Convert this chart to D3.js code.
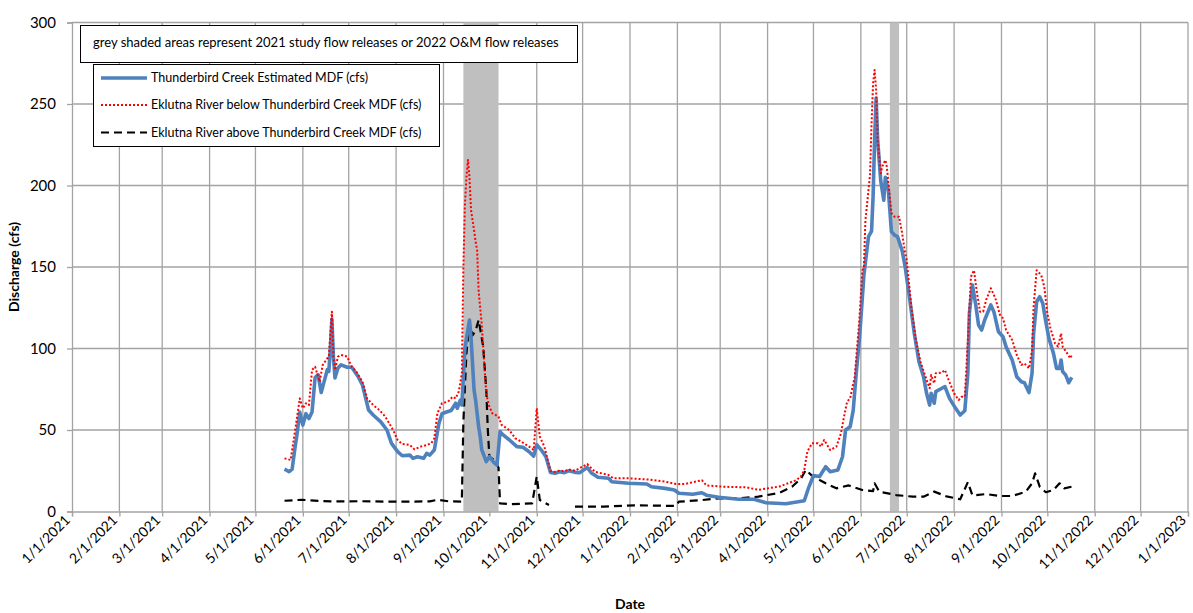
<!DOCTYPE html>
<html>
<head>
<meta charset="utf-8">
<script src="https://cdn.jsdelivr.net/npm/d3@7"></script>
<style>
  html, body { margin: 0; padding: 0; background: #fff; }
  svg { display: block; font-family: Lato, "Open Sans", sans-serif; }
</style>
</head>
<body>
<svg id="chart" width="1193" height="613"></svg>
<script>
// Thunderbird Creek estimated mean daily flow (cfs)
const thunderbird = [
  ["2021-05-20",26],["2021-05-22",25],["2021-05-23",24.4],["2021-05-25",26],["2021-05-27",40],
  ["2021-05-28",46],["2021-05-30",61],["2021-05-31",57],["2021-06-01",53],["2021-06-03",60],
  ["2021-06-05",57],["2021-06-07",61],["2021-06-09",82],["2021-06-11",84],["2021-06-13",73],
  ["2021-06-15",80],["2021-06-17",87],["2021-06-18",86],["2021-06-19",100],["2021-06-20",118],
  ["2021-06-21",95],["2021-06-22",82],["2021-06-24",88],["2021-06-26",90],["2021-06-30",88.5],
  ["2021-07-03",88.5],["2021-07-07",83],["2021-07-10",77.6],["2021-07-14",62.3],["2021-07-17",59.2],
  ["2021-07-22",55],["2021-07-26",50],["2021-07-29",41.8],["2021-08-02",36.7],["2021-08-05",34.2],
  ["2021-08-10",34.6],["2021-08-12",32.6],["2021-08-15",33.6],["2021-08-19",32.6],["2021-08-21",35.7],
  ["2021-08-23",34.6],["2021-08-26",37.7],["2021-08-29",54],["2021-08-31",60],["2021-09-03",61],
  ["2021-09-06",62],["2021-09-09",66.4],["2021-09-10",63.3],["2021-09-12",68.4],["2021-09-13",65.3],
  ["2021-09-15",100],["2021-09-16",106],["2021-09-18",117.5],["2021-09-19",107],["2021-09-21",74.5],
  ["2021-09-22",68.4],["2021-09-24",52],["2021-09-25",46],["2021-09-26",38],["2021-09-29",30.6],
  ["2021-10-01",33.6],["2021-10-04",30],["2021-10-06",28.5],["2021-10-08",49],["2021-10-10",47],
  ["2021-10-14",44],["2021-10-19",39.8],["2021-10-23",39.4],["2021-10-27",36.7],["2021-10-30",34],
  ["2021-11-01",41],["2021-11-04",37.7],["2021-11-07",33.6],["2021-11-10",24],["2021-11-13",23.5],
  ["2021-11-16",24.4],["2021-11-19",23.8],["2021-11-22",25],["2021-11-26",24],["2021-11-29",23.8],
  ["2021-12-04",27],["2021-12-07",23.4],["2021-12-11",21],["2021-12-18",20.4],["2021-12-20",18.3],
  ["2021-12-31",17.3],["2022-01-12",16.9],["2022-01-15",15.2],["2022-01-24",14.2],["2022-01-30",13.2],
  ["2022-02-02",11.2],["2022-02-11",10.6],["2022-02-17",11.5],["2022-02-20",10],["2022-02-28",8.7],
  ["2022-03-13",7.5],["2022-03-23",7.5],["2022-03-31",5.4],["2022-04-13",4.8],["2022-04-25",6.6],
  ["2022-04-28",15],["2022-05-01",22],["2022-05-05",21.5],["2022-05-09",27.5],["2022-05-12",24.4],
  ["2022-05-17",25.5],["2022-05-20",33.6],["2022-05-22",50],["2022-05-25",52],["2022-05-27",62],
  ["2022-05-29",85],["2022-05-31",105],["2022-06-01",118],["2022-06-03",145],["2022-06-06",168.6],
  ["2022-06-08",172],["2022-06-09",193],["2022-06-10",228],["2022-06-11",253.5],["2022-06-12",228],
  ["2022-06-14",203],["2022-06-16",191],["2022-06-17",205],["2022-06-19",197],["2022-06-21",171.7],
  ["2022-06-23",169.6],["2022-06-25",168.6],["2022-06-28",160],["2022-06-30",150],["2022-07-03",130],
  ["2022-07-06",109],["2022-07-09",92],["2022-07-12",82.7],["2022-07-14",72.5],["2022-07-16",65.3],
  ["2022-07-17",72.5],["2022-07-19",66.4],["2022-07-20",73.5],["2022-07-24",75.6],["2022-07-26",76.6],
  ["2022-07-29",69.4],["2022-08-02",63.3],["2022-08-05",59.2],["2022-08-08",61.8],["2022-08-10",84.8],
  ["2022-08-11",121.6],["2022-08-13",139],["2022-08-15",127.7],["2022-08-17",114.4],["2022-08-19",111.3],
  ["2022-08-21",117.5],["2022-08-25",126.7],["2022-08-27",122.6],["2022-08-30",110.3],["2022-09-02",107.2],
  ["2022-09-04",101],["2022-09-08",93],["2022-09-11",82.7],["2022-09-14",79.6],["2022-09-16",79],
  ["2022-09-19",73],["2022-09-21",85],["2022-09-22",109],["2022-09-24",128.7],["2022-09-26",131.8],
  ["2022-09-28",127.7],["2022-09-30",116.5],["2022-10-02",106.3],["2022-10-05",97],["2022-10-07",87.8],
  ["2022-10-09",87.8],["2022-10-10",92.9],["2022-10-11",85.8],["2022-10-13",83.7],["2022-10-15",79],
  ["2022-10-17",82.3]
];

// Eklutna River below Thunderbird Creek mean daily flow (cfs)
const eklutnaBelow = [
  ["2021-05-20",32.6],["2021-05-24",31.6],["2021-05-27",50],["2021-05-30",69.4],["2021-06-01",63.3],
  ["2021-06-03",66.4],["2021-06-05",65.3],["2021-06-07",86.8],["2021-06-09",88.8],["2021-06-12",79.6],
  ["2021-06-14",89.9],["2021-06-17",94],["2021-06-18",95],["2021-06-20",122.6],["2021-06-21",95],
  ["2021-06-22",86.8],["2021-06-24",95],["2021-06-26",96],["2021-06-30",95],["2021-07-03",88.8],
  ["2021-07-06",85.8],["2021-07-10",79.6],["2021-07-13",69.4],["2021-07-17",65.3],["2021-07-21",62.3],
  ["2021-07-25",58.2],["2021-07-30",50],["2021-08-02",43.9],["2021-08-05",41.4],["2021-08-10",40.8],
  ["2021-08-13",38.1],["2021-08-17",39.8],["2021-08-21",40.8],["2021-08-24",41.8],["2021-08-26",44.9],
  ["2021-08-28",60.2],["2021-08-31",66.4],["2021-09-04",67.4],["2021-09-07",70.4],["2021-09-09",69.4],
  ["2021-09-11",73.5],["2021-09-13",84.8],["2021-09-14",150],["2021-09-15",188],["2021-09-16",205],
  ["2021-09-17",215.7],["2021-09-18",205],["2021-09-19",185],["2021-09-21",172.5],["2021-09-22",165.5],
  ["2021-09-23",160.4],["2021-09-24",135],["2021-09-25",125],["2021-09-26",115],["2021-09-28",86],
  ["2021-09-29",72],["2021-10-01",64.3],["2021-10-03",60.2],["2021-10-07",58.2],["2021-10-09",53.1],
  ["2021-10-14",50],["2021-10-18",44.9],["2021-10-22",42.8],["2021-10-27",39.8],["2021-10-30",37.7],
  ["2021-11-01",63.3],["2021-11-03",45.9],["2021-11-06",39.8],["2021-11-09",28.5],["2021-11-10",24.8],
  ["2021-11-13",24.3],["2021-11-16",25.2],["2021-11-19",24.6],["2021-11-22",25.8],["2021-11-26",25],
  ["2021-11-29",26.5],["2021-12-04",29.1],["2021-12-09",24.4],["2021-12-18",22.4],["2021-12-21",20.4],
  ["2021-12-30",20.4],["2022-01-12",19.7],["2022-01-24",18.3],["2022-01-31",16.9],["2022-02-06",16.9],
  ["2022-02-17",19.2],["2022-02-20",16],["2022-03-03",15.2],["2022-03-18",14.8],["2022-03-26",13.3],
  ["2022-04-09",15.4],["2022-04-20",19.3],["2022-04-23",21.8],["2022-04-25",25.5],["2022-04-27",36.7],
  ["2022-04-30",41.8],["2022-05-04",41.8],["2022-05-06",39.8],["2022-05-08",43.9],["2022-05-12",37.7],
  ["2022-05-16",39.8],["2022-05-19",48],["2022-05-21",58.2],["2022-05-23",67.4],["2022-05-25",69.4],
  ["2022-05-28",82.7],["2022-05-31",117.5],["2022-06-02",148],["2022-06-03",150],["2022-06-04",178.8],
  ["2022-06-07",206.4],["2022-06-08",238],["2022-06-09",262.7],["2022-06-10",270.9],["2022-06-11",258.6],
  ["2022-06-12",228],["2022-06-14",207.5],["2022-06-15",211.5],["2022-06-17",215.6],["2022-06-18",211.5],
  ["2022-06-21",183],["2022-06-23",180.9],["2022-06-26",180.9],["2022-06-28",170.7],["2022-06-30",158.4],
  ["2022-07-01",154.3],["2022-07-04",125.6],["2022-07-07",105.2],["2022-07-10",91.9],["2022-07-14",80.7],
  ["2022-07-16",75.6],["2022-07-17",83.7],["2022-07-19",78.6],["2022-07-20",84.8],["2022-07-24",85.2],
  ["2022-07-26",86.8],["2022-07-28",81.7],["2022-08-01",72.5],["2022-08-04",68.4],["2022-08-06",70.4],
  ["2022-08-08",70.4],["2022-08-10",105.2],["2022-08-12",144],["2022-08-14",148],["2022-08-16",133.8],
  ["2022-08-18",122.6],["2022-08-20",122.6],["2022-08-22",129.8],["2022-08-25",137],["2022-08-28",130.8],
  ["2022-08-31",120.6],["2022-09-02",118.5],["2022-09-04",111.3],["2022-09-08",105.2],["2022-09-11",96],
  ["2022-09-14",89.9],["2022-09-16",90.9],["2022-09-19",87.8],["2022-09-21",99],["2022-09-22",125.6],
  ["2022-09-24",148],["2022-09-27",145],["2022-09-29",137.9],["2022-10-01",121.6],["2022-10-03",112.4],
  ["2022-10-06",103.2],["2022-10-08",101.1],["2022-10-10",109.3],["2022-10-11",101.1],["2022-10-14",97],
  ["2022-10-16",94],["2022-10-17",96]
];

// Eklutna River above Thunderbird Creek mean daily flow (cfs); null = no record
const eklutnaAbove = [
  ["2021-05-20",6.6],["2021-05-31",7.2],["2021-06-12",6.5],["2021-06-20",6.2],["2021-07-08",6.3],
  ["2021-08-03",6],["2021-08-23",6.2],["2021-08-28",7.2],["2021-09-04",6.3],["2021-09-13",6],
  ["2021-09-14",55],["2021-09-16",97],["2021-09-18",115.4],["2021-09-20",108],["2021-09-22",111],
  ["2021-09-24",117.5],["2021-09-27",101],["2021-09-29",74.5],["2021-09-30",50],["2021-10-01",33.6],
  ["2021-10-04",31.6],["2021-10-07",27],["2021-10-08",5],["2021-10-14",4.5],["2021-10-23",4.8],
  ["2021-10-29",5],["2021-11-01",21.5],["2021-11-03",7],["2021-11-09",4],["2021-11-17",null],
  ["2021-11-26",3],["2021-12-15",3],["2022-01-04",3.8],["2022-01-31",3.4],["2022-02-02",6],
  ["2022-02-17",7],["2022-02-28",8.1],["2022-03-13",8.1],["2022-03-26",9.1],["2022-04-09",11.5],
  ["2022-04-17",15.2],["2022-04-23",20.4],["2022-04-26",25.5],["2022-04-30",22],["2022-05-05",19.3],
  ["2022-05-09",17.3],["2022-05-16",14.2],["2022-05-24",16],["2022-06-02",13.2],["2022-06-09",12.5],
  ["2022-06-10",17.3],["2022-06-13",12.2],["2022-06-24",10.1],["2022-07-05",9.1],["2022-07-12",9.1],
  ["2022-07-19",12.2],["2022-07-27",9.3],["2022-08-05",7.5],["2022-08-10",18],["2022-08-13",9.8],
  ["2022-08-22",10.7],["2022-08-31",9.5],["2022-09-08",9.5],["2022-09-17",12.2],["2022-09-21",17.3],
  ["2022-09-23",23.4],["2022-09-26",15.2],["2022-09-30",11.8],["2022-10-05",13.2],["2022-10-09",17.3],
  ["2022-10-12",14.2],["2022-10-17",15.2]
];

// Flow-release periods shown as grey bands
const releasePeriods = [["2021-09-14","2021-10-07"],["2022-06-20","2022-06-26"]];

const yTicks = [0, 50, 100, 150, 200, 250, 300];
const xDomain = ["2021-01-01", "2023-01-01"];

const seriesNames = [
  "Thunderbird Creek Estimated MDF (cfs)",
  "Eklutna River below Thunderbird Creek MDF (cfs)",
  "Eklutna River above Thunderbird Creek MDF (cfs)"
];
const noteText = "grey shaded areas represent 2021 study flow releases or 2022 O&M flow releases";

const parse = d3.timeParse("%Y-%m-%d");
const fmt = d3.timeFormat("%-m/%-d/%Y");

const plot = { left: 72, right: 1188, top: 22.5, bottom: 511.5 };
const gridColor = "#a3a3a3";

const svg = d3.select("#chart");

const x = d3.scaleTime().domain(xDomain.map(parse)).range([plot.left, plot.right]);
const y = d3.scaleLinear().domain([0, 300]).range([plot.bottom, plot.top]);
const monthTicks = d3.timeMonth.range(parse(xDomain[0]), d3.timeDay.offset(parse(xDomain[1]), 1));

// grid
const grid = svg.append("g");
grid.selectAll("line.h").data(yTicks.filter(v => v > 0)).join("line")
  .attr("x1", plot.left).attr("x2", plot.right)
  .attr("y1", d => y(d)).attr("y2", d => y(d))
  .attr("stroke", gridColor).attr("stroke-width", 1.3);
grid.selectAll("line.v").data(monthTicks.slice(1)).join("line")
  .attr("x1", d => x(d)).attr("x2", d => x(d))
  .attr("y1", plot.top).attr("y2", plot.bottom)
  .attr("stroke", gridColor).attr("stroke-width", 1.3);

// release bands
svg.append("g").selectAll("rect").data(releasePeriods).join("rect")
  .attr("x", d => x(parse(d[0])))
  .attr("width", d => x(parse(d[1])) - x(parse(d[0])))
  .attr("y", plot.top).attr("height", plot.bottom - plot.top)
  .attr("fill", "#bfbfbf");

// axes
const xAxis = d3.axisBottom(x).tickValues(monthTicks).tickFormat(fmt).tickSize(5).tickPadding(4);
const gx = svg.append("g").attr("transform", `translate(0,${plot.bottom})`).call(xAxis);
gx.select(".domain").attr("stroke", gridColor).attr("stroke-width", 1.3);
gx.selectAll(".tick line").attr("stroke", gridColor).attr("stroke-width", 1.3);
gx.selectAll(".tick text")
  .attr("font-family", "Lato, sans-serif").attr("font-size", 14).attr("fill", "#000")
  .attr("text-anchor", "end")
  .attr("transform", "translate(-5,6) rotate(-45)")
  .attr("x", 0).attr("y", 0).attr("dy", "0.35em");

const yAxis = d3.axisLeft(y).tickValues(yTicks).tickSize(5).tickPadding(11);
const gy = svg.append("g").attr("transform", `translate(${plot.left},0)`).call(yAxis);
gy.select(".domain").attr("stroke", gridColor).attr("stroke-width", 1.3);
gy.selectAll(".tick line").attr("stroke", gridColor).attr("stroke-width", 1.3);
gy.selectAll(".tick text").attr("font-family", "Lato, sans-serif").attr("font-size", 15).attr("fill", "#000");

// axis titles
svg.append("text").text("Date")
  .attr("x", (plot.left + plot.right) / 2).attr("y", 609)
  .attr("text-anchor", "middle").attr("font-weight", "bold").attr("font-size", 14);
svg.append("text").text("Discharge (cfs)")
  .attr("transform", `translate(19,${(plot.top + plot.bottom) / 2}) rotate(-90)`)
  .attr("text-anchor", "middle").attr("font-weight", "bold").attr("font-size", 14);

// series
const styles = [
  { data: eklutnaAbove, color: "#000", width: 2.2, dash: "8,5" },
  { data: thunderbird, color: "#4f81bd", width: 3.6, dash: null },
  { data: eklutnaBelow, color: "#ff0000", width: 2, dash: "2,2" }
];
const line = d3.line()
  .defined(d => d[1] !== null)
  .x(d => x(parse(d[0])))
  .y(d => y(d[1]));
svg.append("g").selectAll("path").data(styles).join("path")
  .attr("d", s => line(s.data))
  .attr("fill", "none")
  .attr("stroke", s => s.color)
  .attr("stroke-width", s => s.width)
  .attr("stroke-dasharray", s => s.dash)
  .attr("stroke-linejoin", "round");

// note box
const note = svg.append("g");
note.append("rect").attr("x", 80.5).attr("y", 25.5).attr("width", 497).attr("height", 37)
  .attr("fill", "#fff").attr("stroke", "#000").attr("stroke-width", 1);
note.append("text").text(noteText).attr("x", 93).attr("y", 46.5)
  .attr("font-size", 13).attr("fill", "#000");

// legend
const legend = svg.append("g");
legend.append("rect").attr("x", 93.5).attr("y", 64.5).attr("width", 346).attr("height", 82)
  .attr("fill", "#fff").attr("stroke", "#000").attr("stroke-width", 1);
const legendStyles = [styles[1], styles[2], styles[0]];
const rowY = [78, 105, 132.5];
legendStyles.forEach((s, i) => {
  legend.append("line")
    .attr("x1", 101).attr("x2", 147).attr("y1", rowY[i]).attr("y2", rowY[i])
    .attr("stroke", s.color).attr("stroke-width", s.width).attr("stroke-dasharray", s.dash);
  legend.append("text").text(seriesNames[i])
    .attr("x", 151).attr("y", rowY[i]).attr("dy", "0.35em")
    .attr("font-size", 12.5).attr("fill", "#000");
});
</script>
</body>
</html>
